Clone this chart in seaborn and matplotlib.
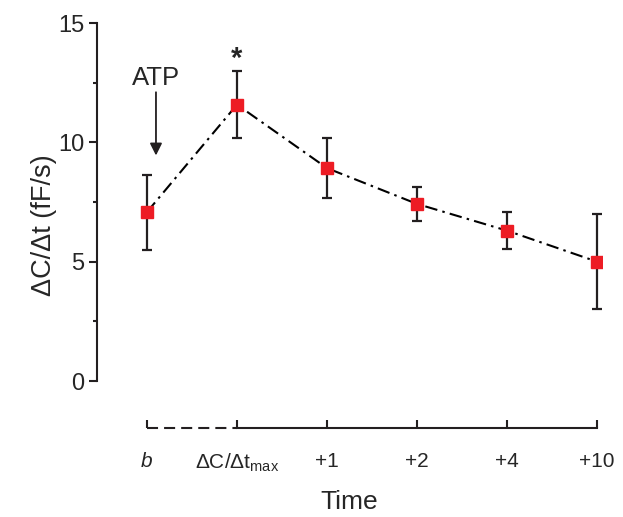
import matplotlib
matplotlib.use("Agg")
import matplotlib.pyplot as plt
import seaborn as sns
import pandas as pd
import numpy as np

# Datos
etiquetas = ['b', r'ΔC/Δt$_\mathregular{max}$', '+1', '+2', '+4', '+10']
valores = [7.08, 11.58, 8.92, 7.42, 6.30, 5.00]
errores = [1.57, 1.40, 1.26, 0.72, 0.77, 1.98]

sns.set_style("ticks")
plt.rcParams['font.family'] = ['Liberation Sans', 'DejaVu Sans']
plt.rcParams['mathtext.fontset'] = 'custom'
plt.rcParams['mathtext.rm'] = 'Liberation Sans'

df = pd.DataFrame({'pos': np.arange(len(etiquetas)), 'valor': valores, 'error': errores})

fig = plt.figure(figsize=(6.23, 5.17), dpi=100)
ax = fig.add_axes([0.1557, 0.172, 0.81, 0.7835])

ax.errorbar(df['pos'], df['valor'], yerr=df['error'], fmt='none',
            ecolor='#231f20', elinewidth=1.6, capsize=3.6, capthick=1.6, zorder=2)
sns.lineplot(data=df, x='pos', y='valor', ax=ax, color='black', linewidth=1.5,
             linestyle=(0, (6, 2.5, 1.2, 2.5)), zorder=3)
ax.plot(df['pos'], df['valor'], linestyle='none', marker='s', markersize=8.5,
        color='#ed1c24', zorder=4)

ax.set_ylim(-1.97, 15)
ax.set_xlim(-0.555, 5.05)
ax.set_yticks([0, 5, 10, 15])
ax.set_yticks([2.5, 7.5, 12.5], minor=True)
ax.set_xticks(df['pos'])
ax.set_xticklabels(etiquetas)
ax.get_xticklabels()[0].set_fontstyle('italic')

for s in ['top', 'right']:
    ax.spines[s].set_visible(False)
ax.spines['left'].set_bounds(0, 15)
ax.spines['bottom'].set_bounds(1, 5)
for s in ['left', 'bottom']:
    ax.spines[s].set_linewidth(1.5)
    ax.spines[s].set_color('#231f20')
# tramo discontinuo entre b y el máximo
ax.plot([0, 1], [-1.97, -1.97], color='#231f20', linewidth=1.5,
        linestyle=(0, (5.3, 2.9)), clip_on=False)

ax.tick_params(axis='y', which='major', length=6, width=1.5, labelsize=17, color='#231f20', pad=3)
ax.tick_params(axis='y', which='minor', length=3, width=1.5, color='#231f20')
ax.tick_params(axis='x', direction='in', length=6, width=1.5, labelsize=15, color='#231f20', pad=17)

ax.set_xlabel('Time', fontsize=19, labelpad=11)
ax.set_ylabel('ΔC/Δt (fF/s)', fontsize=19.5, labelpad=1)

ax.annotate('', xy=(0.10, 9.45), xytext=(0.10, 12.1),
            arrowprops=dict(arrowstyle='-|>', color='#231f20', lw=1.3,
                            mutation_scale=18, shrinkA=0, shrinkB=0))
ax.text(0.10, 12.4, 'ATP', ha='center', va='baseline', fontsize=18.5)
ax.text(1, 13.15, '*', ha='center', va='baseline', fontsize=21, fontweight='bold')

fig.savefig('out.png', dpi=100)
